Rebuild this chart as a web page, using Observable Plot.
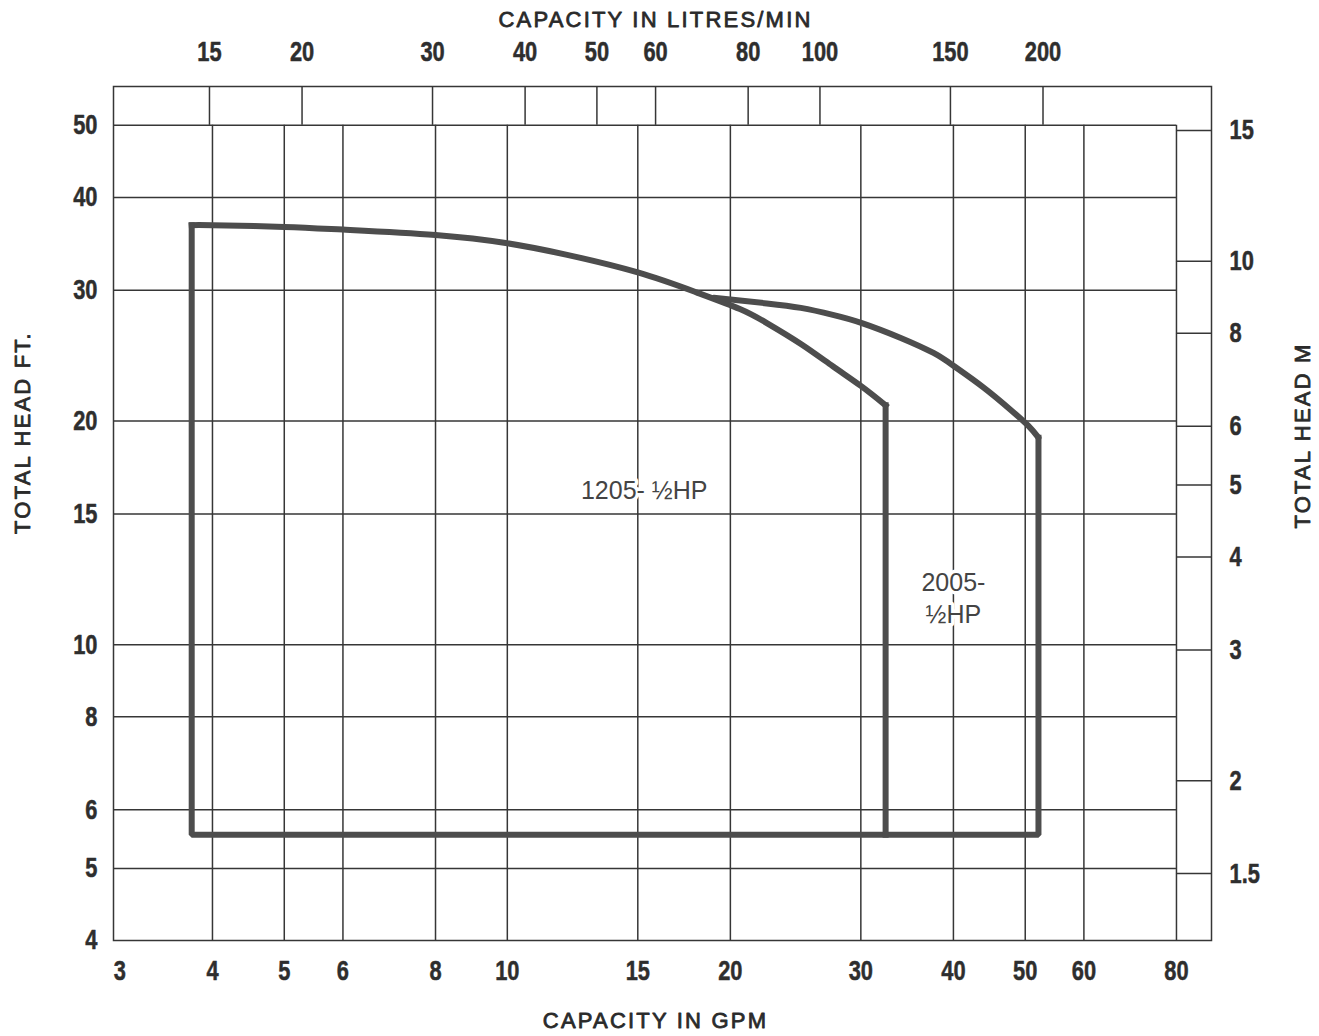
<!DOCTYPE html>
<html><head><meta charset="utf-8">
<script src="https://cdn.jsdelivr.net/npm/d3@7"></script>
<script src="https://cdn.jsdelivr.net/npm/@observablehq/plot@0.6"></script>
<style>body{margin:0;background:#fff;} svg{display:block}</style>
</head><body><div id="chart"></div>
<script>
// ---- axis ticks ----
const gpmTicks = [3, 4, 5, 6, 8, 10, 15, 20, 30, 40, 50, 60, 80];
const gpmGrid = [4, 5, 6, 8, 10, 15, 20, 30, 40, 50, 60];
const ftTicks = [4, 5, 6, 8, 10, 15, 20, 30, 40, 50];
const ftGrid = [5, 6, 8, 10, 15, 20, 30, 40];
const litreTicks = [15, 20, 30, 40, 50, 60, 80, 100, 150, 200];
const meterTicks = [15, 10, 8, 6, 5, 4, 3, 2, 1.5];
const LITRES_PER_GALLON = 3.785;
const FEET_PER_METRE = 3.28084;

// chart extents (GPM, ft)
const gpmMin = 2.941, gpmMaxGrid = 80, gpmMax = 89.2;
const ftMin = 4, ftMaxGrid = 50, ftMax = 56.4;

// ---- performance curves ----
const arc1205Gpm = [3.75, 4, 5, 6, 8, 10, 12, 15, 18, 20.6, 22.4, 24.9, 27.5, 30, 32.4];
const arc1205Ft  = [36.7, 36.7, 36.5, 36.2, 35.6, 34.7, 33.5, 31.7, 29.8, 28.3, 27.1, 25.4, 23.7, 22.3, 21.0];
const arc2005Gpm = [19.0, 22.4, 24.9, 27.5, 30.1, 33.9, 37.6, 40.1, 43.9, 47.8, 50.5, 52.1];
const arc2005Ft  = [29.3, 28.8, 28.4, 27.8, 27.1, 25.9, 24.7, 23.7, 22.2, 20.7, 19.7, 19.0];
const baseFt = 5.55;

// ---- annotations ----
const labelText = ["1205- ½HP", "2005-\n½HP"];
const labelGpm = [15.3, 40];
const labelFt = [16.2, 11.6];

const titleTop = "CAPACITY IN LITRES/MIN";
const titleBottom = "CAPACITY IN GPM";
const titleLeft = "TOTAL HEAD FT.";
const titleRight = "TOTAL HEAD M";

// ---- build ----
const pts = (xs, ys) => xs.map((x, i) => ({x, y: ys[i]}));
const arc1205 = pts(arc1205Gpm, arc1205Ft);
const arc2005 = pts(arc2005Gpm, arc2005Ft);
const last = a => a[a.length - 1];
const outline = [
  {x: arc1205Gpm[0], y: arc1205Ft[0]},
  {x: arc1205Gpm[0], y: baseFt},
  {x: last(arc2005Gpm), y: baseFt},
  {x: last(arc2005Gpm), y: last(arc2005Ft)}
];
const right1205 = [
  {x: last(arc1205Gpm), y: last(arc1205Ft)},
  {x: last(arc1205Gpm), y: baseFt}
];

const GRID = "#363636", GW = 1.5;
const CURVE = "#4d4d4d", CW = 6;
const tickFont = '"Liberation Sans", Arial, sans-serif';
const textFont = '"Liberation Sans", Arial, sans-serif';
const tickStyle = {fontSize: 28, fontWeight: "bold", fontFamily: tickFont, fill: "#2e2e2e", stroke: "#2e2e2e", strokeWidth: 0.5, lineAnchor: "middle"};
const titleStyle = {fontSize: 22, fontFamily: textFont, fill: "#2a2a2a", stroke: "#2a2a2a", strokeWidth: 0.8, lineAnchor: "middle", textAnchor: "middle"};

const plot = Plot.plot({
  width: 1319, height: 1036,
  marginLeft: 113, marginRight: 108, marginTop: 86, marginBottom: 96,
  x: {type: "log", domain: [gpmMin, gpmMax], axis: null},
  y: {type: "log", domain: [ftMin, ftMax], axis: null},
  style: {background: "#fff", fontFamily: textFont},
  marks: [
    Plot.ruleX(gpmGrid, {x: d => d, y1: ftMin, y2: ftMaxGrid, stroke: GRID, strokeWidth: GW}),
    Plot.ruleY(ftGrid, {y: d => d, x1: gpmMin, x2: gpmMaxGrid, stroke: GRID, strokeWidth: GW}),
    Plot.ruleY([ftMaxGrid], {y: d => d, x1: gpmMin, x2: gpmMaxGrid, stroke: GRID, strokeWidth: GW}),
    Plot.ruleX([gpmMaxGrid], {x: d => d, y1: ftMin, y2: ftMaxGrid, stroke: GRID, strokeWidth: GW}),
    Plot.ruleX(litreTicks, {x: d => d / LITRES_PER_GALLON, y1: ftMaxGrid, y2: ftMax, stroke: GRID, strokeWidth: GW}),
    Plot.ruleY(meterTicks, {y: d => d * FEET_PER_METRE, x1: gpmMaxGrid, x2: gpmMax, stroke: GRID, strokeWidth: GW}),
    Plot.frame({stroke: GRID, strokeWidth: GW}),
    // curves
    Plot.line(arc1205, {x: "x", y: "y", curve: "natural", stroke: CURVE, strokeWidth: CW, strokeLinecap: "square"}),
    Plot.line(arc2005, {x: "x", y: "y", curve: "natural", stroke: CURVE, strokeWidth: CW, strokeLinecap: "round"}),
    Plot.line(outline, {x: "x", y: "y", stroke: CURVE, strokeWidth: CW, strokeLinejoin: "miter", strokeLinecap: "square"}),
    Plot.line(right1205, {x: "x", y: "y", stroke: CURVE, strokeWidth: CW, strokeLinecap: "square"}),
    // annotations
    Plot.text(d3.range(labelText.length), {x: i => labelGpm[i], y: i => labelFt[i], text: i => labelText[i],
      fontSize: 25, fontFamily: textFont, fill: "#444", stroke: "#fff", strokeWidth: 7, lineHeight: 1.28}),
    // tick labels
    Plot.text(gpmTicks, {x: d => d, frameAnchor: "bottom", dy: 31, text: d => String(d), ...tickStyle}),
    Plot.text(ftTicks, {y: d => d, frameAnchor: "left", dx: -16, textAnchor: "end", text: d => String(d), ...tickStyle}),
    Plot.text(litreTicks, {x: d => d / LITRES_PER_GALLON, frameAnchor: "top", dy: -34, text: d => String(d), ...tickStyle}),
    Plot.text(meterTicks, {y: d => d * FEET_PER_METRE, frameAnchor: "right", dx: 18, textAnchor: "start", text: d => String(d), ...tickStyle}),
    // titles
    Plot.text([titleTop], {frameAnchor: "top", dx: -7, dy: -67, text: d => d, ...titleStyle}),
    Plot.text([titleBottom], {frameAnchor: "bottom", dx: -7, dy: 80, text: d => d, ...titleStyle}),
    Plot.text([titleLeft], {frameAnchor: "left", dx: -91, dy: -81, rotate: -90, text: d => d, ...titleStyle}),
    Plot.text([titleRight], {frameAnchor: "right", dx: 91, dy: -78, rotate: -90, text: d => d, ...titleStyle})
  ]
});
const titles = new Set([titleTop, titleBottom, titleLeft, titleRight]);
d3.select(plot).selectAll("text")
  .filter(function() { return titles.has(this.textContent); })
  .style("letter-spacing", "2.2px");
// condense bold tick labels (narrow bold face in the reference)
d3.select(plot).selectAll("g[font-weight='bold'] text")
  .attr("transform", function() { return this.getAttribute("transform") + " scale(0.78,1)"; });
document.getElementById("chart").appendChild(plot);
</script>
</body></html>
